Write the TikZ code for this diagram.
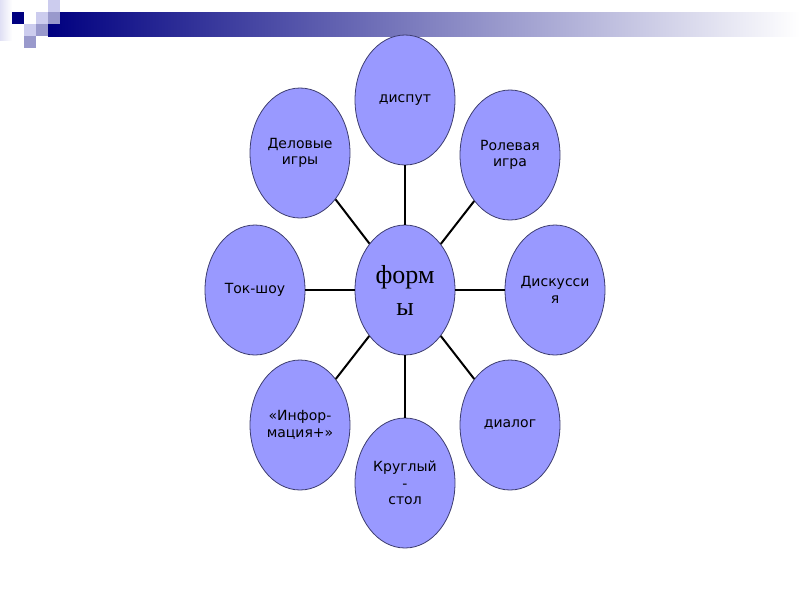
\documentclass[tikz,border=0pt]{standalone}
\usepackage{fontspec}
\setmainfont{DejaVu Sans}
\newfontfamily\serifrm{Liberation Serif}
\usetikzlibrary{shapes.geometric}

\definecolor{navy}{HTML}{000080}
\definecolor{lilac}{HTML}{CCCCEE}
\definecolor{midlilac}{HTML}{9999CC}
\definecolor{ovalfill}{HTML}{9999FF}
\definecolor{ovalline}{HTML}{3C3C6E}

\tikzstyle{form} = [ellipse, draw=ovalline, line width=0.8pt, fill=ovalfill,
  minimum width=100pt, minimum height=130pt, inner sep=0pt, align=center,
  font=\fontsize{14}{16.5}\selectfont]
\tikzstyle{hub} = [form, font=\serifrm\fontsize{26}{32}\selectfont]
\tikzstyle{spoke} = [line width=2pt, black]

\begin{document}
\begin{tikzpicture}[x=1pt, y=-1pt]
\useasboundingbox (0,0) rectangle (800,600);
%balk
\shade[left color=lilac!60, right color=white] (0,0) rectangle (12,40);
\shade[left color=navy, right color=white] (48,12) rectangle (800,36);
\fill[navy] (12,12) rectangle (24,24);
\fill[lilac] (48,0) rectangle (60,12);
\fill[lilac] (36,12) rectangle (48,24);
\fill[midlilac] (48,12) rectangle (60,24);
\fill[lilac] (24,24) rectangle (36,36);
\fill[midlilac] (36,24) rectangle (48,36);
\fill[midlilac] (24,36) rectangle (36,48);
%kern
\node[hub] (formy) at (405,290) {форм\\ы};
%ring
\node[form] (disput) at (405,100) {диспут};
\node[form] (rolevaya) at (510,155) {Ролевая\\игра};
\node[form] (diskussiya) at (555,290) {Дискусси\\я};
\node[form] (dialog) at (510,425) {диалог};
\node[form] (kruglyj) at (405,483) {Круглый\\-\\стол};
\node[form] (informaciya) at (300,425) {«Инфор-\\мация+»};
\node[form] (tokshou) at (255,290) {Ток-шоу};
\node[form] (delovye) at (300,153) {Деловые\\игры};
%lijnen
\foreach \n in {disput, rolevaya, diskussiya, dialog, kruglyj, informaciya, tokshou, delovye}
  \draw[spoke] (formy) -- (\n);
\end{tikzpicture}
\end{document}
